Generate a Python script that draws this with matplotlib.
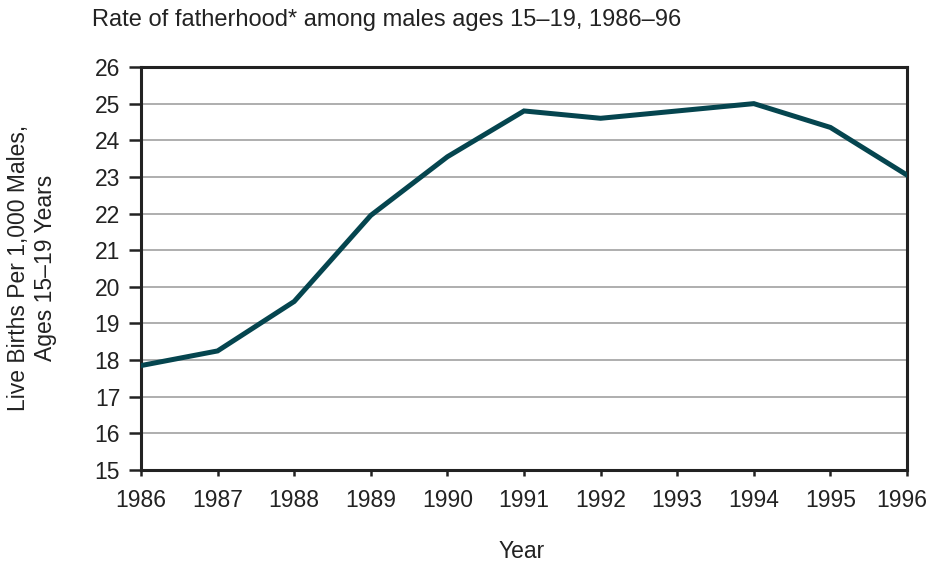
import matplotlib
matplotlib.use('Agg')
import matplotlib.pyplot as plt
import matplotlib.transforms as mtransforms

years = [1986, 1987, 1988, 1989, 1990, 1991, 1992, 1993, 1994, 1995, 1996]
rates = [17.85, 18.25, 19.6, 21.95, 23.55, 24.8, 24.6, 24.8, 25.0, 24.35, 23.05]
yticks = list(range(15, 27))

plt.rcParams['font.family'] = ['Liberation Sans', 'DejaVu Sans']

fig = plt.figure(figsize=(9.3, 5.62), dpi=100)
ax = fig.add_axes([0.1516, 0.1637, 0.8237, 0.7171])

ax.plot(years, rates, color='#05454f', linewidth=3.6, solid_joinstyle='miter', zorder=3)

ax.set_xlim(1986, 1996)
ax.set_ylim(15, 26)
ax.set_xticks(years)
ax.set_yticks(yticks)
ax.tick_params(axis='both', labelsize=16.5, width=1.8, color='#222222',
               labelcolor='#222222', direction='out')
ax.tick_params(axis='x', length=4.5, pad=9)
ax.tick_params(axis='y', length=9, pad=6)
ax.yaxis.grid(True, color='#999999', linewidth=1.1)
ax.set_axisbelow(True)
for s in ax.spines.values():
    s.set_linewidth(2.2)
    s.set_color('#222222')

# last year label sits a little left of its tick, as in the original
fig.canvas.draw()
last = ax.get_xticklabels()[-1]
last.set_transform(last.get_transform() + mtransforms.ScaledTranslation(-5/100, 0, fig.dpi_scale_trans))

fig.text(522/930, 1 - 551/562, 'Year', fontsize=16.5, ha='center', va='center', color='#222222')
fig.text(32/930, 1 - 268/562, 'Live Births Per 1,000 Males,\nAges 15\u201319 Years',
         fontsize=16.5, rotation=90, ha='center', va='center', multialignment='center',
         linespacing=1.2, color='#222222')
fig.text(92/930, 1 - 20/562, 'Rate of fatherhood* among males ages 15\u201319, 1986\u201396',
         fontsize=17, va='center', ha='left', color='#222222')

fig.savefig('out.png', dpi=100)
